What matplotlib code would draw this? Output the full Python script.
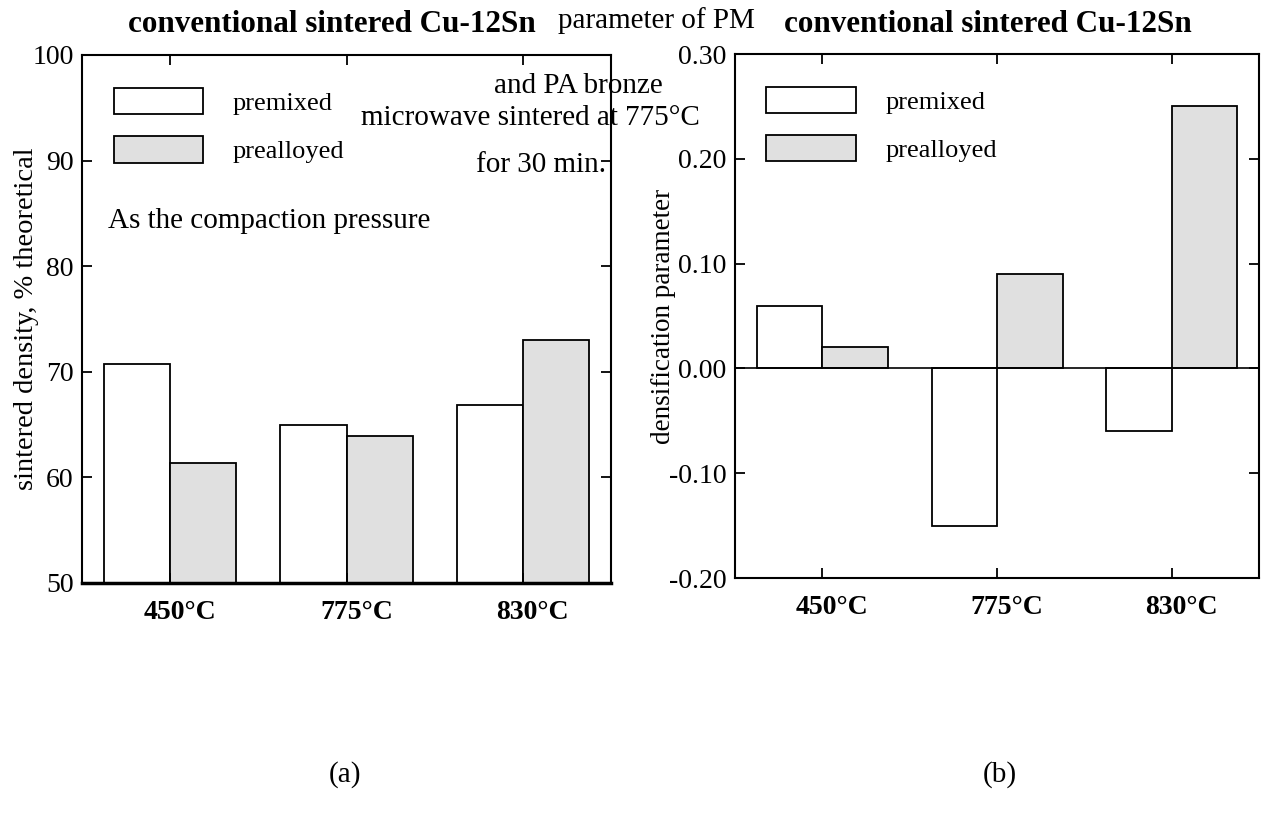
import numpy as np
import matplotlib
matplotlib.use('Agg')
import matplotlib.pyplot as plt
import matplotlib.transforms as mtransforms

plt.rcParams['font.family'] = ['Liberation Serif', 'DejaVu Serif']
plt.rcParams['axes.unicode_minus'] = False

#%% Data
temps = ['450°C', '775°C', '830°C']
series_names = ['premixed', 'prealloyed']

density_premixed = [70.7, 65.0, 66.9]
density_prealloyed = [61.4, 63.9, 73.0]

densif_premixed = [0.06, -0.15, -0.06]
densif_prealloyed = [0.02, 0.09, 0.25]

left_yticks = [50, 60, 70, 80, 90, 100]
right_yticks = [-0.20, -0.10, 0.00, 0.10, 0.20, 0.30]

#%% Figure
W, H = 1263, 813
fig = plt.figure(figsize=(W / 100, H / 100), dpi=100)

def px_axes(x0, y0, x1, y1):
    # axes box given in pixel coords measured from top-left
    return fig.add_axes([x0 / W, 1 - y1 / H, (x1 - x0) / W, (y1 - y0) / H])

ax1 = px_axes(82, 55, 611, 583)
ax2 = px_axes(735, 54, 1259, 578)

fill = ['white', '#e0e0e0']
width = 0.375
x = np.arange(len(temps))

def style_axes(ax):
    for s in ax.spines.values():
        s.set_linewidth(1.5)
    ax.tick_params(axis='both', direction='in', length=7, width=1.3,
                   top=True, right=True, labelsize=20)
    ax.tick_params(axis='y', pad=6)
    ax.tick_params(axis='x', pad=12)
    ax.set_xticks(x)
    ax.set_xticklabels(temps, fontweight='bold', fontsize=20)
    offset = mtransforms.ScaledTranslation(0.1, 0, fig.dpi_scale_trans)
    for lab in ax.get_xticklabels():
        lab.set_transform(lab.get_transform() + offset)
    ax.set_xlim(-0.5, 2.5)

# (a) sintered density
ax1.bar(x - width / 2, density_premixed, width, color=fill[0], edgecolor='black',
        linewidth=1.3, label=series_names[0])
ax1.bar(x + width / 2, density_prealloyed, width, color=fill[1], edgecolor='black',
        linewidth=1.3, label=series_names[1])
ax1.set_ylim(50, 100)
ax1.set_yticks(left_yticks)
ax1.set_yticklabels([str(v) for v in left_yticks])
style_axes(ax1)
ax1.spines['bottom'].set_linewidth(2.5)
ax1.set_ylabel('sintered density, % theoretical', fontsize=20.5)
ax1.yaxis.set_label_coords((39 - 82) / 529, 0.5)

# (b) densification parameter
ax2.bar(x - width / 2, densif_premixed, width, color=fill[0], edgecolor='black',
        linewidth=1.3, label=series_names[0])
ax2.bar(x + width / 2, densif_prealloyed, width, color=fill[1], edgecolor='black',
        linewidth=1.3, label=series_names[1])
ax2.axhline(0, color='black', linewidth=1.2)
ax2.set_ylim(-0.20, 0.30)
ax2.set_yticks(right_yticks)
ax2.set_yticklabels(['%.2f' % v for v in right_yticks])
style_axes(ax2)
ax2.set_ylabel('densification parameter', fontsize=19.5)
ax2.yaxis.set_label_coords((676 - 735) / 524, 0.5)

for ax in (ax1, ax2):
    ax.legend(loc='upper left', bbox_to_anchor=(0.06, 0.937), frameon=False,
              fontsize=19, handlelength=3.4, handleheight=1.15,
              labelspacing=0.8, handletextpad=1.1, borderpad=0,
              borderaxespad=0)

#%% Text overlays (baseline positions in pixels from top-left)
def ftext(px, py, s, **kw):
    fig.text(px / W, 1 - py / H, s, va='baseline', **kw)

ftext(332, 32, 'conventional sintered Cu-12Sn', ha='center',
      fontsize=22.4, fontweight='bold')
ftext(988, 32, 'conventional sintered Cu-12Sn', ha='center',
      fontsize=22.4, fontweight='bold')
ftext(558, 28, 'parameter of PM', ha='left', fontsize=21)
ftext(663, 93, 'and PA bronze', ha='right', fontsize=21)
ftext(700, 125, 'microwave sintered at 775°C', ha='right', fontsize=21)
ftext(606, 172, 'for 30 min.', ha='right', fontsize=21)
ftext(108, 228, 'As the compaction pressure', ha='left', fontsize=21)
ftext(345, 782, '(a)', ha='center', fontsize=21)
ftext(1000, 782, '(b)', ha='center', fontsize=21)

fig.savefig('out.png', dpi=100)
